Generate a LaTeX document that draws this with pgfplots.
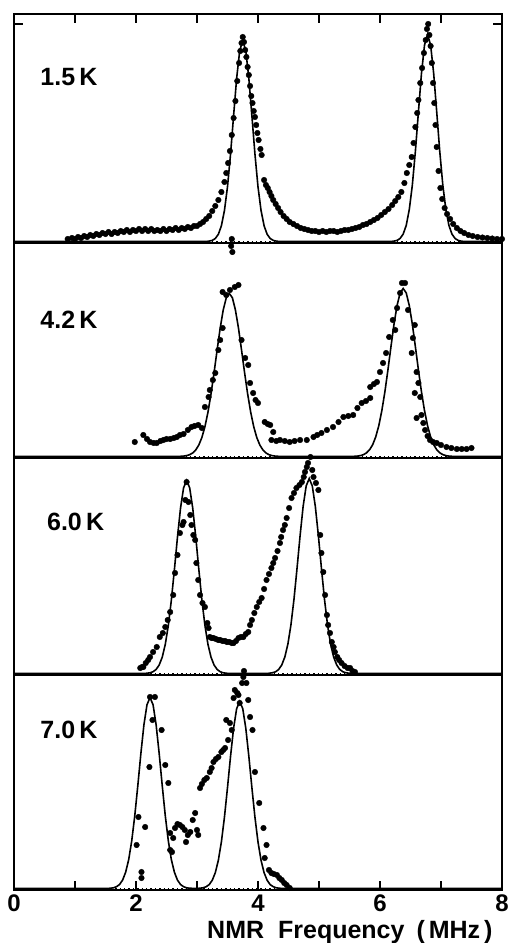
\documentclass[border=0pt]{standalone}
\usepackage{fontspec}
\setmainfont{Liberation Sans}
\usepackage{pgfplots}
\pgfplotsset{compat=1.18}
\pgfplotsset{
 panel/.style={
  scale only axis, width=488pt, xmin=0, xmax=8, ymin=0, clip=false,
  axis line style={line width=1.6pt},
  tick style={line width=1.6pt, black},
  tick align=inside, major tick length=9pt,
  ytick=\empty, xtick=\empty,
  /pgf/number format/assume math mode=true,
  ticklabel style={font=\bfseries\fontsize{24}{26}\selectfont},
 },
 dots/.style={only marks, mark=*, mark size=2.8pt, black},
 fit/.style={no marks, black, line width=1.6pt},
 base/.style={no marks, black, line width=1pt, dash pattern=on 1.4pt off 3pt},
}
\newcommand{\lab}[1]{{\bfseries\fontsize{25}{28}\selectfont #1}}
\begin{document}
\begin{tikzpicture}
%---------------- 1.5 K
\begin{axis}[panel, name=p1, at={(0pt,0pt)}, anchor=north west, height=229pt, ymax=229,
  xtick={1,...,7}, xtick pos=top, xticklabels={}, ytick={219}, yticklabels={}]
\addplot[base] coordinates {(0,1.5) (8,1.5)};
\addplot[fit] coordinates {(0,1.5) (3.15,1.5) (3.20,1.9) (3.25,2.6) (3.30,4.5) (3.35,8.7) (3.40,17.2) (3.45,32.5) (3.50,56.2) (3.55,88.9) (3.60,127.3) (3.65,164.7) (3.70,192.2) (3.75,202.5) (3.80,192.2) (3.85,164.7) (3.90,127.3) (3.95,88.9) (4.00,56.2) (4.05,32.5) (4.10,17.2) (4.15,8.7) (4.20,4.5) (4.25,2.6) (4.30,1.9) (4.35,1.5) (6.18,1.5) (6.23,1.9) (6.28,2.6) (6.33,4.6) (6.38,8.9) (6.43,17.6) (6.48,33.4) (6.53,57.8) (6.58,91.5) (6.63,131.1) (6.68,169.6) (6.73,197.9) (6.78,208.5) (6.83,197.9) (6.88,169.6) (6.93,131.1) (6.98,91.5) (7.03,57.8) (7.08,33.4) (7.13,17.6) (7.18,8.9) (7.23,4.6) (7.28,2.6) (7.33,1.9) (7.38,1.5) (8,1.5)};
\addplot[dots] coordinates {(0.88,4) (0.95,5) (1.00,4) (1.05,6) (1.10,5) (1.15,7) (1.20,6) (1.25,8) (1.30,7) (1.35,9) (1.40,8) (1.45,10) (1.50,9) (1.55,11) (1.60,9) (1.65,11) (1.70,10) (1.75,12) (1.80,11) (1.85,13) (1.90,11) (1.95,13) (2.00,12) (2.05,14) (2.10,12) (2.15,14) (2.20,12) (2.25,14) (2.30,12) (2.35,13) (2.40,12) (2.45,14) (2.50,12) (2.55,14) (2.60,13) (2.65,15) (2.70,13) (2.75,15) (2.80,14) (2.85,16) (2.90,15) (2.95,17) (3.00,17) (3.05,19) (3.10,21) (3.15,24) (3.20,27) (3.25,32) (3.30,37) (3.35,43) (3.40,51) (3.45,61) (3.48,70) (3.51,80) (3.54,92) (3.57,108) (3.60,125) (3.63,142) (3.66,162) (3.69,180) (3.71,192) (3.73,200) (3.75,206) (3.77,201) (3.79,193) (3.81,186) (3.83,176) (3.85,168) (3.87,157) (3.89,147) (3.91,140) (3.93,132) (3.95,126) (3.97,118) (3.99,110) (4.01,103) (4.04,94) (4.06,88) (4.10,63) (4.13,58) (4.16,55) (4.19,51) (4.22,47) (4.25,43) (4.29,39) (4.33,35) (4.37,31) (4.42,27) (4.47,24) (4.52,21) (4.58,19) (4.64,17) (4.70,15) (4.76,14) (4.82,13) (4.88,12) (4.94,12) (5.00,11) (5.06,12) (5.12,11) (5.18,12) (5.24,12) (5.30,11) (5.36,12) (5.42,13) (5.48,13) (5.54,14) (5.60,15) (5.66,16) (5.72,18) (5.78,19) (5.84,21) (5.90,23) (5.96,25) (6.02,28) (6.08,31) (6.14,34) (6.20,38) (6.25,42) (6.30,46) (6.35,51) (6.40,60) (6.44,70) (6.48,78) (6.52,86) (6.55,100) (6.58,116) (6.61,130) (6.63,143) (6.66,160) (6.69,175) (6.72,190) (6.75,203) (6.77,214) (6.79,219) (6.81,208) (6.83,197) (6.85,180) (6.87,160) (6.89,140) (6.91,118) (6.93,96) (6.96,72) (6.99,55) (7.02,44) (7.06,35) (7.10,29) (7.15,24) (7.20,19) (7.26,15) (7.32,12) (7.38,10) (7.45,8) (7.52,7) (7.60,6) (7.68,5.5) (7.76,5) (7.84,4.5) (7.92,4) (8.00,4) (3.57,4) (3.56,-3) (3.58,-9)};
\node[anchor=base west, inner sep=0pt] at (axis cs:0.43,158) {\lab{1.5\,K}};
\end{axis}
%---------------- 4.2 K
\begin{axis}[panel, name=p2, at={(0pt,-229pt)}, anchor=north west, height=215pt, ymax=215]
\addplot[base] coordinates {(0,1.5) (8,1.5)};
\addplot[fit] coordinates {(0,1.5) (2.73,1.7) (2.78,1.9) (2.83,2.4) (2.88,3.3) (2.93,5.1) (2.98,8.1) (3.03,13.0) (3.08,20.5) (3.13,31.3) (3.18,45.9) (3.23,64.2) (3.28,85.4) (3.33,108.1) (3.38,129.9) (3.43,148.0) (3.48,160.3) (3.53,164.5) (3.58,160.3) (3.63,148.0) (3.68,129.9) (3.73,108.1) (3.78,85.4) (3.83,64.2) (3.88,45.9) (3.93,31.3) (3.98,20.5) (4.03,13.0) (4.08,8.1) (4.13,5.1) (4.18,3.3) (4.23,2.4) (4.28,1.9) (4.33,1.7) (5.58,1.7) (5.63,1.9) (5.68,2.4) (5.73,3.4) (5.78,5.2) (5.83,8.3) (5.88,13.3) (5.93,21.1) (5.98,32.2) (6.03,47.3) (6.08,66.1) (6.13,88.0) (6.18,111.4) (6.23,133.9) (6.28,152.5) (6.33,165.1) (6.38,169.5) (6.43,165.1) (6.48,152.5) (6.53,133.9) (6.58,111.4) (6.63,88.0) (6.68,66.1) (6.73,47.3) (6.78,32.2) (6.83,21.1) (6.88,13.3) (6.93,8.3) (6.98,5.2) (7.03,3.4) (7.08,2.4) (7.13,1.9) (7.18,1.7) (8,1.5)};
\addplot[dots] coordinates {(1.98,16) (2.12,23) (2.18,19) (2.23,16) (2.29,15) (2.34,15) (2.40,17) (2.45,18) (2.50,19) (2.56,19) (2.62,20) (2.67,21) (2.72,23) (2.78,24) (2.85,28) (2.91,31) (2.96,32) (3.02,33) (3.08,30) (3.13,51) (3.19,61) (3.21,68) (3.26,78) (3.30,85) (3.35,108) (3.38,118) (3.42,130) (3.42,166) (3.48,163) (3.54,168) (3.62,171) (3.68,173) (3.73,118) (3.79,100) (3.84,93) (3.87,75) (3.92,65) (3.96,58) (4.00,55) (4.11,36) (4.16,34) (4.20,33) (4.25,26) (4.22,18) (4.30,17) (4.36,18) (4.44,17) (4.52,16) (4.60,17) (4.69,18) (4.80,18) (4.91,21) (4.97,23) (5.04,25) (5.13,28) (5.23,31) (5.32,36) (5.40,41) (5.48,42) (5.56,43) (5.63,50) (5.70,55) (5.77,57) (5.84,60) (5.84,71) (5.90,74) (5.95,76) (6.00,86) (6.05,95) (6.10,105) (6.15,121) (6.21,138) (6.25,128) (6.28,150) (6.33,165) (6.36,175) (6.41,175) (6.46,148) (6.52,105) (6.54,120) (6.57,133) (6.57,65) (6.60,86) (6.60,40) (6.63,75) (6.66,61) (6.68,43) (6.71,35) (6.74,28) (6.78,22) (6.82,18) (6.87,16) (6.93,15) (7.00,13) (7.09,11) (7.17,10) (7.26,9) (7.34,9) (7.42,9) (7.50,10)};
\node[anchor=base west, inner sep=0pt] at (axis cs:0.43,130) {\lab{4.2\,K}};
\end{axis}
%---------------- 6.0 K
\begin{axis}[panel, name=p3, at={(0pt,-444pt)}, anchor=north west, height=217pt, ymax=217]
\addplot[base] coordinates {(0,1.5) (8,1.5)};
\addplot[fit] coordinates {(0,1.5) (2.13,1.5) (2.18,1.8) (2.23,2.2) (2.28,3.3) (2.33,5.6) (2.38,10.0) (2.43,17.8) (2.48,30.6) (2.53,49.6) (2.58,75.1) (2.63,105.6) (2.68,137.9) (2.73,166.9) (2.78,187.2) (2.83,194.5) (2.88,187.2) (2.93,166.9) (2.98,137.9) (3.03,105.6) (3.08,75.1) (3.13,49.6) (3.18,30.6) (3.23,17.8) (3.28,10.0) (3.33,5.6) (3.38,3.3) (3.43,2.2) (3.48,1.8) (3.53,1.5) (4.14,1.5) (4.19,1.8) (4.24,2.3) (4.29,3.3) (4.34,5.6) (4.39,10.1) (4.44,18.0) (4.49,30.9) (4.54,50.1) (4.59,75.8) (4.64,106.7) (4.69,139.3) (4.74,168.6) (4.79,189.1) (4.84,196.5) (4.89,189.1) (4.94,168.6) (4.99,139.3) (5.04,106.7) (5.09,75.8) (5.14,50.1) (5.19,30.9) (5.24,18.0) (5.29,10.1) (5.34,5.6) (5.39,3.3) (5.44,2.3) (5.49,1.8) (5.54,1.5) (8,1.5)};
\addplot[dots] coordinates {(2.07,7) (2.10,8) (2.12,8) (2.16,12) (2.20,15) (2.23,18) (2.28,23) (2.34,28) (2.39,38) (2.44,42) (2.48,48) (2.52,55) (2.56,63) (2.61,80) (2.64,102) (2.68,120) (2.72,142) (2.76,150) (2.78,153) (2.81,175) (2.83,193) (2.86,173) (2.89,160) (2.91,150) (2.94,140) (2.97,135) (2.99,112) (3.02,95) (3.05,80) (3.09,72) (3.13,68) (3.17,52) (3.19,47) (3.21,38) (3.24,37) (3.27,37) (3.31,36) (3.35,35) (3.38,35) (3.42,34) (3.46,34) (3.49,33) (3.53,33) (3.57,32) (3.60,32) (3.64,34) (3.68,37) (3.72,38) (3.76,38) (3.80,41) (3.84,43) (3.87,50) (3.90,55) (3.94,62) (3.98,68) (4.02,73) (4.06,77) (4.10,86) (4.14,95) (4.18,101) (4.22,107) (4.25,112) (4.28,117) (4.32,124) (4.36,132) (4.38,138) (4.41,145) (4.44,150) (4.47,157) (4.51,167) (4.55,177) (4.59,182) (4.63,187) (4.68,190) (4.72,193) (4.75,198) (4.77,203) (4.80,208) (4.82,212) (4.86,218) (4.89,205) (4.91,198) (4.95,192) (4.99,185) (5.02,140) (5.04,122) (5.07,103) (5.10,80) (5.13,60) (5.15,50) (5.18,42) (5.21,33) (5.24,28) (5.26,23) (5.30,18) (5.33,15) (5.37,12) (5.42,9) (5.47,7) (5.51,7) (5.55,4) (5.59,3)};
\node[anchor=base west, inner sep=0pt] at (axis cs:0.54,145) {\lab{6.0\,K}};
\end{axis}
%---------------- 7.0 K
\begin{axis}[panel, name=p4, at={(0pt,-661pt)}, anchor=north west, height=215pt, ymax=215,
  xtick={0,...,8}, xtick pos=bottom, xticklabels={0,,2,,4,,6,,8},
  xticklabel style={yshift=-1pt}]
\addplot[base] coordinates {(0,1.5) (8,1.5)};
\addplot[fit] coordinates {(0,1.5) (1.53,1.5) (1.58,1.8) (1.63,2.2) (1.68,3.3) (1.73,5.5) (1.78,9.9) (1.83,17.7) (1.88,30.3) (1.93,49.1) (1.98,74.3) (2.03,104.5) (2.08,136.5) (2.13,165.2) (2.18,185.2) (2.23,192.5) (2.28,185.2) (2.33,165.2) (2.38,136.5) (2.43,104.5) (2.48,74.3) (2.53,49.1) (2.58,30.3) (2.63,17.7) (2.68,9.9) (2.73,5.5) (2.78,3.3) (2.83,2.2) (2.88,1.8) (2.95,1.6) (3.00,1.6) (3.05,1.8) (3.10,2.2) (3.15,3.3) (3.20,5.4) (3.25,9.7) (3.30,17.3) (3.35,29.7) (3.40,48.1) (3.45,72.8) (3.50,102.4) (3.55,133.7) (3.60,161.8) (3.65,181.4) (3.70,188.5) (3.75,181.4) (3.80,161.8) (3.85,133.7) (3.90,102.4) (3.95,72.8) (4.00,48.1) (4.05,29.7) (4.10,17.3) (4.15,9.7) (4.20,5.4) (4.25,3.3) (4.30,2.2) (4.35,1.8) (4.40,1.5) (8,1.5)};
\addplot[dots] coordinates {(2.01,45) (2.04,73) (2.09,18) (2.09,12) (2.15,63) (2.22,123) (2.23,193) (2.27,170) (2.31,193) (2.42,160) (2.48,125) (2.53,107) (2.56,57) (2.59,38) (2.56,40) (2.61,52) (2.64,62) (2.68,66) (2.72,65) (2.76,63) (2.80,60) (2.82,48) (2.85,55) (2.89,58) (2.93,70) (2.97,77) (3.00,60) (3.02,55) (3.05,102) (3.08,106) (3.12,110) (3.16,112) (3.21,118) (3.24,122) (3.27,128) (3.31,131) (3.35,133) (3.40,138) (3.43,140) (3.46,142) (3.48,170) (3.51,150) (3.54,167) (3.57,160) (3.60,192) (3.62,200) (3.66,197) (3.68,195) (3.70,187) (3.74,207) (3.76,213) (3.77,219) (3.81,207) (3.84,190) (3.87,173) (3.91,160) (3.95,118) (4.02,87) (4.09,62) (4.14,45) (4.11,32) (4.18,20) (4.22,17) (4.26,16) (4.31,15) (4.35,12) (4.39,10) (4.43,7) (4.47,5) (4.52,2)};
\node[anchor=base west, inner sep=0pt] at (axis cs:0.43,152) {\lab{7.0\,K}};
\node[anchor=base west, inner sep=0pt] at (axis cs:3.164,-48) {\lab{NMR\hspace{14pt}Frequency\hspace{12pt}(\hspace{4pt}MHz\hspace{4pt})}};
\end{axis}
\pgfresetboundingbox
\path (-14pt,14pt) rectangle (494pt,-929pt);
\end{tikzpicture}
\end{document}
